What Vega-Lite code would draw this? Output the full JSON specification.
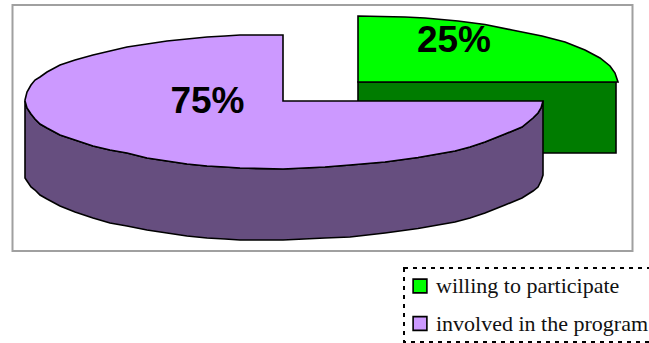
{
  "$schema": "https://vega.github.io/schema/vega-lite/v6.json",
  "width": 649,
  "height": 343,
  "padding": 0,
  "autosize": "none",
  "background": "white",
  "config": {
    "view": {"stroke": null},
    "legend": {"strokeDash": [4, 5], "strokeWidth": 2}
  },
  "datasets": {
    "frame": [{"x": 12.5, "x2": 632.5, "y": 5, "y2": 251}],
    "sideGreen": [{"x": 358, "x2": 616, "y": 82, "y2": 153}],
    "sidePurple": [
      {"x": 25, "y": 101, "y2": 178},
      {"x": 27, "y": 108, "y2": 181},
      {"x": 31, "y": 114, "y2": 187},
      {"x": 35, "y": 119, "y2": 190},
      {"x": 40, "y": 124, "y2": 195},
      {"x": 47, "y": 128, "y2": 199},
      {"x": 60, "y": 135, "y2": 206},
      {"x": 75, "y": 140, "y2": 212},
      {"x": 93, "y": 146, "y2": 218},
      {"x": 110, "y": 150, "y2": 223},
      {"x": 127, "y": 153, "y2": 226},
      {"x": 147, "y": 158, "y2": 230},
      {"x": 167, "y": 161, "y2": 233},
      {"x": 187, "y": 164, "y2": 236},
      {"x": 207, "y": 166, "y2": 238},
      {"x": 225, "y": 167, "y2": 239},
      {"x": 240, "y": 168, "y2": 240},
      {"x": 283, "y": 169, "y2": 240},
      {"x": 325, "y": 167, "y2": 238},
      {"x": 350, "y": 165, "y2": 237},
      {"x": 385, "y": 162, "y2": 233},
      {"x": 418, "y": 157.5, "y2": 228.5},
      {"x": 455, "y": 151, "y2": 222},
      {"x": 470, "y": 147, "y2": 218},
      {"x": 485, "y": 142, "y2": 213},
      {"x": 505, "y": 134, "y2": 205},
      {"x": 522, "y": 127, "y2": 198},
      {"x": 533, "y": 118, "y2": 191},
      {"x": 538, "y": 113, "y2": 187},
      {"x": 541, "y": 108, "y2": 181},
      {"x": 543, "y": 101, "y2": 175}
    ],
    "tops": [
      {"series": "willing to participate", "x": 358, "y": 16, "y2": 82},
      {"series": "willing to participate", "x": 405, "y": 17, "y2": 82},
      {"series": "willing to participate", "x": 425, "y": 18, "y2": 82},
      {"series": "willing to participate", "x": 458, "y": 21, "y2": 82},
      {"series": "willing to participate", "x": 485, "y": 24.5, "y2": 82},
      {"series": "willing to participate", "x": 512, "y": 30, "y2": 82},
      {"series": "willing to participate", "x": 542, "y": 36, "y2": 82},
      {"series": "willing to participate", "x": 565, "y": 42, "y2": 82},
      {"series": "willing to participate", "x": 585, "y": 50, "y2": 82},
      {"series": "willing to participate", "x": 600, "y": 58, "y2": 82},
      {"series": "willing to participate", "x": 610, "y": 66, "y2": 82},
      {"series": "willing to participate", "x": 615, "y": 73, "y2": 82},
      {"series": "willing to participate", "x": 618, "y": 82, "y2": 82},
      {"series": "involved in the program", "x": 25, "y": 100, "y2": 101},
      {"series": "involved in the program", "x": 27, "y": 92, "y2": 108},
      {"series": "involved in the program", "x": 31, "y": 85, "y2": 114},
      {"series": "involved in the program", "x": 35, "y": 80, "y2": 119},
      {"series": "involved in the program", "x": 40, "y": 77, "y2": 124},
      {"series": "involved in the program", "x": 47, "y": 72, "y2": 128},
      {"series": "involved in the program", "x": 60, "y": 65, "y2": 135},
      {"series": "involved in the program", "x": 75, "y": 60, "y2": 140},
      {"series": "involved in the program", "x": 93, "y": 55, "y2": 146},
      {"series": "involved in the program", "x": 110, "y": 51, "y2": 150},
      {"series": "involved in the program", "x": 127, "y": 47, "y2": 153},
      {"series": "involved in the program", "x": 147, "y": 44, "y2": 158},
      {"series": "involved in the program", "x": 167, "y": 41, "y2": 161},
      {"series": "involved in the program", "x": 187, "y": 39, "y2": 164},
      {"series": "involved in the program", "x": 207, "y": 37, "y2": 166},
      {"series": "involved in the program", "x": 225, "y": 36, "y2": 167},
      {"series": "involved in the program", "x": 240, "y": 35, "y2": 168},
      {"series": "involved in the program", "x": 283, "y": 35, "y2": 169},
      {"series": "involved in the program", "x": 283, "y": 101, "y2": 169},
      {"series": "involved in the program", "x": 325, "y": 101, "y2": 167},
      {"series": "involved in the program", "x": 350, "y": 101, "y2": 165},
      {"series": "involved in the program", "x": 385, "y": 101, "y2": 162},
      {"series": "involved in the program", "x": 418, "y": 101, "y2": 157.5},
      {"series": "involved in the program", "x": 455, "y": 101, "y2": 151},
      {"series": "involved in the program", "x": 470, "y": 101, "y2": 147},
      {"series": "involved in the program", "x": 485, "y": 101, "y2": 142},
      {"series": "involved in the program", "x": 505, "y": 101, "y2": 134},
      {"series": "involved in the program", "x": 522, "y": 101, "y2": 127},
      {"series": "involved in the program", "x": 533, "y": 101, "y2": 118},
      {"series": "involved in the program", "x": 538, "y": 101, "y2": 113},
      {"series": "involved in the program", "x": 541, "y": 101, "y2": 108},
      {"series": "involved in the program", "x": 543, "y": 101, "y2": 101}
    ],
    "labels": [
      {"x": 207.5, "y": 113, "share": "75%"},
      {"x": 454, "y": 52, "share": "25%"}
    ]
  },
  "layer": [
    {
      "data": {"name": "frame"},
      "mark": {"type": "rect", "fill": "white", "stroke": "#a0a0a0", "strokeWidth": 2},
      "encoding": {
        "x": {"field": "x", "type": "quantitative", "scale": {"domain": [0, 649], "nice": false, "zero": false}, "axis": null},
        "x2": {"field": "x2"},
        "y": {"field": "y", "type": "quantitative", "scale": {"domain": [343, 0], "nice": false, "zero": false}, "axis": null},
        "y2": {"field": "y2"}
      }
    },
    {
      "data": {"name": "sideGreen"},
      "mark": {"type": "rect", "fill": "#007c00", "stroke": "black", "strokeWidth": 1.6},
      "encoding": {
        "x": {"field": "x", "type": "quantitative", "axis": null},
        "x2": {"field": "x2"},
        "y": {"field": "y", "type": "quantitative", "axis": null},
        "y2": {"field": "y2"}
      }
    },
    {
      "data": {"name": "sidePurple"},
      "mark": {"type": "area", "fill": "#664e7f", "stroke": "black", "strokeWidth": 1.6},
      "encoding": {
        "x": {"field": "x", "type": "quantitative", "axis": null},
        "y": {"field": "y", "type": "quantitative", "axis": null, "stack": null},
        "y2": {"field": "y2"}
      }
    },
    {
      "data": {"name": "tops"},
      "mark": {"type": "area", "stroke": "black", "strokeWidth": 1.6, "opacity": 1},
      "encoding": {
        "x": {"field": "x", "type": "quantitative", "axis": null},
        "y": {"field": "y", "type": "quantitative", "axis": null, "stack": null},
        "y2": {"field": "y2"},
        "color": {
          "field": "series",
          "type": "nominal",
          "scale": {
            "domain": ["willing to participate", "involved in the program"],
            "range": ["#00ff00", "#cc99ff"]
          },
          "legend": {
            "title": null,
            "orient": "none",
            "legendX": 404,
            "legendY": 268,
            "padding": 7,
            "strokeColor": "black",
            "symbolType": "square",
            "symbolSize": 190,
            "symbolOffset": -2,
            "symbolStrokeColor": "black",
            "symbolStrokeWidth": 1.6,
            "symbolOpacity": 1,
            "labelFont": "Liberation Serif",
            "labelFontSize": 22,
            "labelColor": "#111111",
            "labelLimit": 300,
            "labelOffset": 5,
            "rowPadding": 15.5
          }
        }
      }
    },
    {
      "data": {"name": "labels"},
      "mark": {"type": "text", "font": "Liberation Sans", "fontWeight": "bold", "fontSize": 37, "baseline": "alphabetic", "align": "center", "color": "black"},
      "encoding": {
        "x": {"field": "x", "type": "quantitative", "axis": null},
        "y": {"field": "y", "type": "quantitative", "axis": null},
        "text": {"field": "share"}
      }
    }
  ]
}
